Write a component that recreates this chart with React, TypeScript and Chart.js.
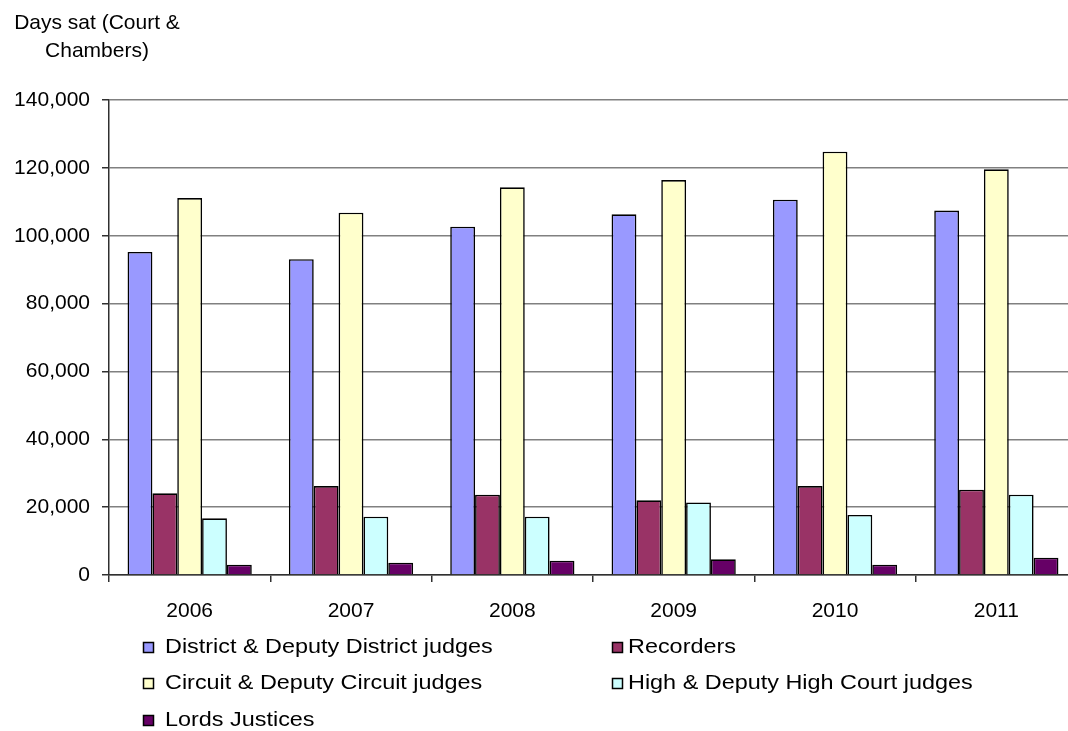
import React, { useEffect, useRef } from "react";
import { Chart, registerables } from "chart.js";

Chart.register(...registerables);

const years = ["2006", "2007", "2008", "2009", "2010", "2011"];
const districtJudges = [95200, 93100, 102650, 106300, 110600, 107400];
const recorders = [24080, 26200, 23670, 22000, 26200, 25150];
const circuitJudges = [111100, 106800, 114250, 116400, 124760, 119570];
const highCourtJudges = [16700, 17200, 17200, 21400, 17700, 23670];
const lordsJustices = [3040, 3630, 4220, 4620, 3040, 5100];

const seriesLabels = [
  "District & Deputy District judges",
  "Recorders",
  "Circuit & Deputy Circuit judges",
  "High & Deputy High Court judges",
  "Lords Justices",
];
const seriesColors = ["#9999FF", "#993366", "#FFFFCC", "#CCFFFF", "#660066"];
const axisTitleLines = ["Days sat (Court &", "Chambers)"];
const yMin = 0;
const yMax = 140000;
const yStep = 20000;

const FONT = '"Liberation Sans", Arial, Helvetica, sans-serif';

const overlayPlugin = {
  id: "overlayPlugin",
  afterDraw(chart: any) {
    const ctx = chart.ctx as CanvasRenderingContext2D;
    ctx.save();
    ctx.fillStyle = "#000";
    ctx.font = `21px ${FONT}`;
    ctx.textAlign = "center";
    ctx.textBaseline = "middle";
    axisTitleLines.forEach((t, i) => {
      ctx.fillText(t, 89, 15 + i * 28);
    });

    chart.data.datasets.forEach((ds: any, i: number) => {
      const col = i % 2;
      const row = Math.floor(i / 2);
      const mx = col === 0 ? 135 : 604;
      const tx = col === 0 ? 157 : 620;
      const cy = 639 + row * 36.5;
      const top = Math.round(cy - 5.5);
      ctx.fillStyle = ds.backgroundColor;
      ctx.fillRect(mx, top, 11, 11);
      ctx.strokeStyle = "#000";
      ctx.lineWidth = 1.5;
      ctx.strokeRect(mx + 0.5, top + 0.5, 10, 10);
      ctx.save();
      ctx.translate(tx, cy);
      ctx.scale(1.17, 1);
      ctx.fillStyle = "#000";
      ctx.textAlign = "left";
      ctx.textBaseline = "middle";
      ctx.font = `20px ${FONT}`;
      ctx.fillText(ds.label, 0, 0);
      ctx.restore();
    });
    ctx.restore();
  },
};

export default function App() {
  const canvasRef = useRef<HTMLCanvasElement | null>(null);

  useEffect(() => {
    if (!canvasRef.current) return;
    const prevMargin = document.body.style.margin;
    const prevOverflow = document.body.style.overflow;
    document.body.style.margin = "0";
    document.body.style.overflow = "hidden";
    Chart.defaults.font.family = FONT;
    const values = [districtJudges, recorders, circuitJudges, highCourtJudges, lordsJustices];
    const chart = new Chart(canvasRef.current, {
      type: "bar",
      data: {
        labels: years,
        datasets: values.map((v, i) => ({
          label: seriesLabels[i],
          data: v,
          backgroundColor: seriesColors[i],
          borderColor: "#000",
          borderWidth: 1.6,
          categoryPercentage: 0.77,
          barPercentage: 1.0,
        })),
      },
      options: {
        animation: false,
        responsive: false,
        maintainAspectRatio: false,
        events: [],
        layout: { padding: { top: 92, left: 0, right: 6, bottom: 108 } },
        plugins: {
          legend: { display: false },
          title: { display: false },
          tooltip: { enabled: false },
        },
        scales: {
          x: {
            offset: true,
            grid: {
              display: true,
              drawOnChartArea: false,
              drawTicks: true,
              offset: true,
              tickLength: 7,
              tickColor: "#303030",
              lineWidth: 1.5,
            },
            border: { display: true, color: "#303030", width: 1.5 },
            ticks: {
              color: "#000",
              font: { size: 21, family: FONT },
              padding: 17,
              maxRotation: 0,
            },
            afterFit(scale: any) {
              scale.height = 48;
            },
          },
          y: {
            min: yMin,
            max: yMax,
            grid: {
              color: "#808080",
              lineWidth: 1.5,
              drawTicks: true,
              tickLength: 7,
              tickColor: "#303030",
            },
            border: { display: true, color: "#303030", width: 1.5 },
            ticks: {
              stepSize: yStep,
              color: "#000",
              font: { size: 21, family: FONT },
              padding: 12,
              callback: (v: any) => Number(v).toLocaleString("en-US"),
            },
            afterFit(scale: any) {
              scale.width = 101;
            },
          },
        },
      },
      plugins: [overlayPlugin],
    });
    return () => {
      chart.destroy();
      document.body.style.margin = prevMargin;
      document.body.style.overflow = prevOverflow;
    };
  }, []);

  return (
    <div
      style={{
        width: 1068,
        height: 731,
        overflow: "hidden",
        position: "relative",
        boxSizing: "border-box",
        paddingLeft: 8,
        paddingTop: 8,
      }}
    >
      <canvas ref={canvasRef} width={1075} height={723} style={{ display: "block" }} />
    </div>
  );
}
